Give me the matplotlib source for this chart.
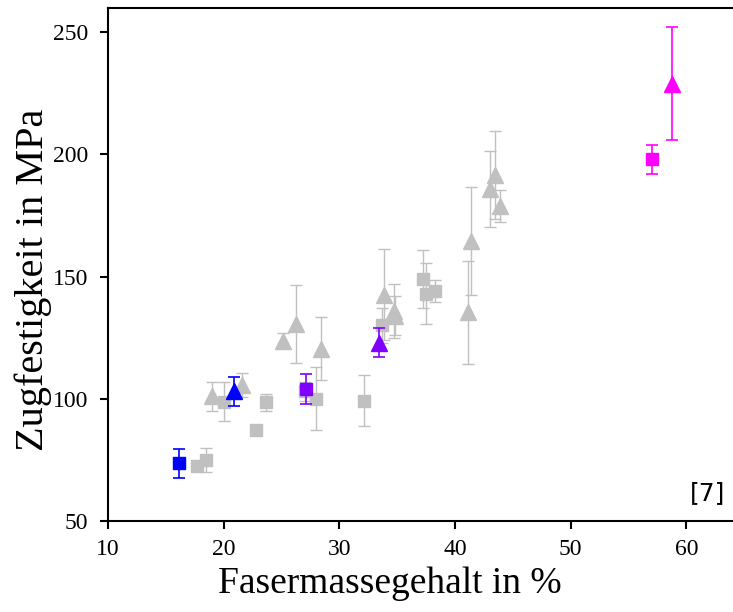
import matplotlib
matplotlib.use('Agg')
import matplotlib.pyplot as plt

plt.rcParams['font.family'] = 'Liberation Serif'

GRAY = '#c0c0c0'

# gray squares: fibre mass content, tensile strength, error
sq_x = [17.7, 18.5, 20.0, 22.8, 23.7, 27.0, 28.0, 32.1, 33.7, 37.2, 37.5, 38.3]
sq_y = [72.5, 75.0, 98.8, 87.3, 98.5, 103.0, 100.0, 99.2, 130.0, 149.0, 143.0, 144.0]
sq_err = [0.0, 5.0, 8.0, 0.0, 3.5, 4.0, 13.0, 10.5, 7.0, 12.0, 12.5, 4.5]

# gray triangles
tri_x = [19.0, 21.6, 25.1, 26.3, 28.4, 33.9, 34.7, 34.8, 41.1, 41.4, 43.0, 43.5, 43.9]
tri_y = [101.0, 105.7, 123.8, 130.5, 120.5, 142.6, 136.0, 134.0, 135.4, 164.5, 186.0, 191.5, 178.8]
tri_err = [6.0, 5.0, 3.0, 16.0, 13.0, 18.5, 11.0, 8.0, 21.0, 22.0, 15.5, 18.0, 6.5]

# highlighted points
hl_x = [16.1, 20.9, 27.1, 33.4, 57.0, 58.8]
hl_y = [73.5, 103.0, 104.0, 123.0, 198.0, 229.0]
hl_err = [6.0, 6.0, 6.0, 6.0, 6.0, 23.0]
hl_marker = ['s', '^', 's', '^', 's', '^']
hl_color = ['#0000ff', '#0000ff', '#8000ff', '#8000ff', '#ff00ff', '#ff00ff']

fig = plt.figure(figsize=(7.33, 6.12), dpi=100)
ax = fig.add_axes([0.1473, 0.149, 0.853, 0.838])

ax.errorbar(sq_x, sq_y, yerr=sq_err, fmt='s', color=GRAY, ms=9,
            elinewidth=1, capsize=4, capthick=1, zorder=2)
ax.errorbar(tri_x, tri_y, yerr=tri_err, fmt='^', color=GRAY, ms=11,
            elinewidth=1, capsize=4, capthick=1, zorder=2)

for x, y, e, m, c in zip(hl_x, hl_y, hl_err, hl_marker, hl_color):
    ax.errorbar([x], [y], yerr=[e], fmt=m, color=c, ms=9 if m == 's' else 11,
                elinewidth=1.2, capsize=4, capthick=1.2, zorder=3)

ax.set_xlim(10, 64.06)
ax.set_ylim(50, 260)
ax.set_xticks([10, 20, 30, 40, 50, 60])
ax.set_yticks([50, 100, 150, 200, 250])
ax.spines['right'].set_visible(False)
for s in ['left', 'bottom', 'top']:
    ax.spines[s].set_linewidth(1.5)
ax.tick_params(direction='out', length=6, width=1.5, labelsize=17)
ax.tick_params(axis='x', pad=7)
ax.tick_params(axis='y', pad=8)

ax.set_xlabel('Fasermassegehalt in %', fontsize=27)
ax.set_ylabel('Zugfestigkeit in MPa', fontsize=29)
ax.xaxis.set_label_coords(0.45, -0.09)
ax.yaxis.set_label_coords(-0.09, 0.47)

ax.text(0.988, 0.03, '[7]', transform=ax.transAxes, ha='right', va='bottom',
        fontsize=18, family='DejaVu Sans')

fig.savefig('out.png', dpi=100)
